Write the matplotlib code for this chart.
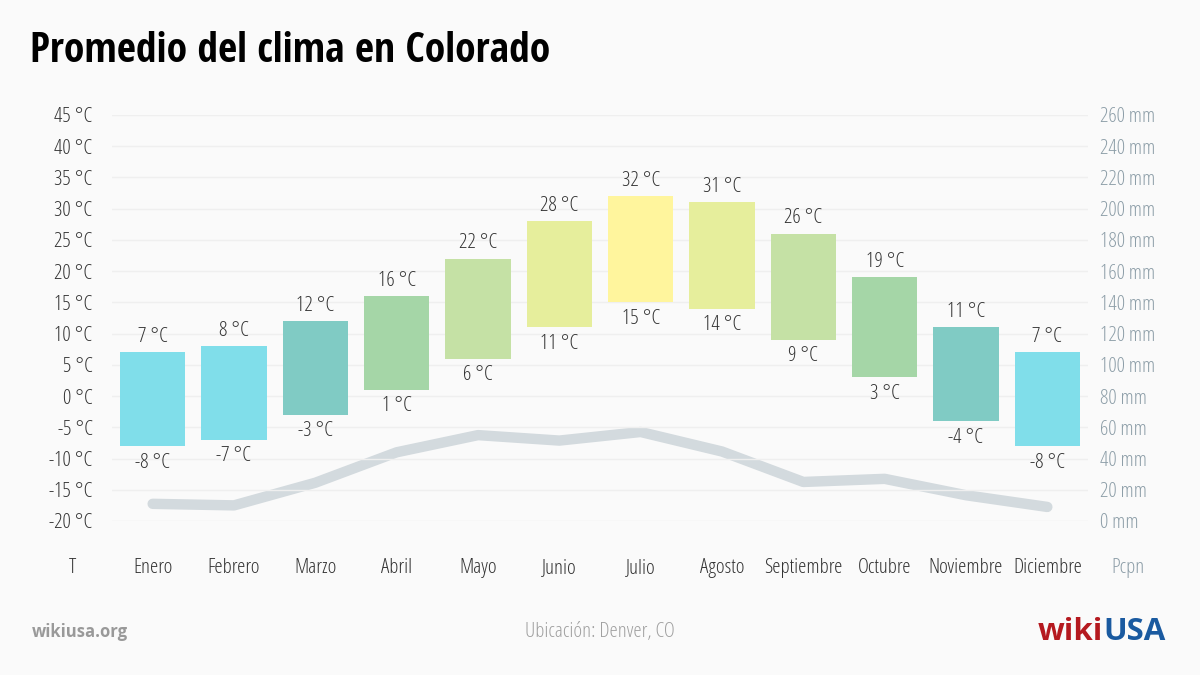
import matplotlib
matplotlib.use("Agg")
import matplotlib.pyplot as plt
from matplotlib import font_manager as fm
from matplotlib.font_manager import FontProperties
from matplotlib.lines import Line2D

# ---------------- data ----------------
months = ["Enero", "Febrero", "Marzo", "Abril", "Mayo", "Junio", "Julio",
          "Agosto", "Septiembre", "Octubre", "Noviembre", "Diciembre"]
temp_high = [7, 8, 12, 16, 22, 28, 32, 31, 26, 19, 11, 7]
temp_low = [-8, -7, -3, 1, 6, 11, 15, 14, 9, 3, -4, -8]
precip = [11, 10, 24.5, 44, 55, 51.5, 57, 44.5, 25, 27, 16.5, 9]
bar_colors = ["#80deea", "#80deea", "#80cbc4", "#a5d6a7", "#c5e1a5", "#e6ee9c",
              "#fff59d", "#e6ee9c", "#c5e1a5", "#a5d6a7", "#80cbc4", "#80deea"]
temp_ticks = list(range(-20, 50, 5))
precip_ticks = list(range(0, 280, 20))

# ---------------- fonts ----------------
def find_font(name, stretch, weight):
    for f in fm.fontManager.ttflist:
        if f.name == name and f.stretch == stretch and f.weight == weight:
            return f.fname
    return None

p_light = find_font("Open Sans", "condensed", 300)
p_bold = find_font("Open Sans Condensed", "condensed", 700)
p_sans_bold = find_font("Open Sans", "normal", 700)

def fp(path, size, fallback_weight="normal"):
    if path:
        return FontProperties(fname=path, size=size)
    return FontProperties(family="DejaVu Sans", size=size, weight=fallback_weight)

BG = "#fafafa"
DARK = "#333333"
AXIS2 = "#8d9ea8"
PX = 72 / 100  # points per pixel

fig = plt.figure(figsize=(12, 6.75), dpi=100, facecolor=BG)
ax = fig.add_axes([112 / 1200, 1 - 521 / 675, 976 / 1200, 406 / 675])
ax2 = ax.twinx()

x = list(range(len(months)))
heights = [h - l for h, l in zip(temp_high, temp_low)]

ax.bar(x, heights, bottom=temp_low, width=0.8, color=bar_colors, zorder=3)
ax.set_xlim(-0.5, len(months) - 0.5)
ax.set_ylim(-20, 45)
ax.set_yticks(temp_ticks)
ax.set_yticklabels([f"{t} °C" for t in temp_ticks])
ax.grid(axis="y", color="#efefef", linewidth=1, zorder=0)
ax.set_axisbelow(True)

lab_fp = fp(p_light, 15)
for xi, hi, lo in zip(x, temp_high, temp_low):
    ax.annotate(f"{hi} °C", (xi, hi), xytext=(0, 15.5 * PX), textcoords="offset points",
                ha="center", va="center", color=DARK, fontproperties=lab_fp, zorder=5)
    ax.annotate(f"{lo} °C", (xi, lo), xytext=(0, -16.5 * PX), textcoords="offset points",
                ha="center", va="center", color=DARK, fontproperties=lab_fp, zorder=5)

ax2.plot(x, precip, color="#d3dade", linewidth=7.5, solid_capstyle="round",
         solid_joinstyle="round", zorder=2)
ax2.set_ylim(0, 260)
ax2.set_yticks(precip_ticks)
ax2.set_yticklabels([f"{p} mm" for p in precip_ticks])
ax.set_zorder(ax2.get_zorder() + 1)
ax.patch.set_visible(False)
ax2.patch.set_facecolor(BG)

ax.set_xticks(x)
ax.set_xticklabels(months)
for a in (ax, ax2):
    for s in a.spines.values():
        s.set_visible(False)
ax.tick_params(axis="both", length=0)
ax2.tick_params(axis="both", length=0)
ax.tick_params(axis="y", pad=14, colors=DARK)
ax.tick_params(axis="x", pad=47 * PX, colors=DARK)
ax2.tick_params(axis="y", pad=9, colors=AXIS2)
for lbl in ax.get_yticklabels():
    lbl.set_fontproperties(lab_fp)
for lbl in ax.get_xticklabels():
    lbl.set_fontproperties(lab_fp)
    lbl.set_va("center")
for lbl in ax2.get_yticklabels():
    lbl.set_fontproperties(lab_fp)

fig.text(72 / 1200, 1 - 568 / 675, "T", ha="center", va="center", color=DARK, fontproperties=lab_fp)
fig.text(1128 / 1200, 1 - 568 / 675, "Pcpn", ha="center", va="center", color=AXIS2, fontproperties=lab_fp)

# title
fig.text(30 / 1200, 1 - 52 / 675, "Promedio del clima en Colorado", ha="left", va="center",
         color="#000000", fontproperties=fp(p_bold, 30, "bold"))

# footer
fig.text(32 / 1200, 1 - 632 / 675, "wikiusa.org", ha="left", va="center", color="#999999",
         fontproperties=fp(p_sans_bold, 12, "bold"))
fig.text(600 / 1200, 1 - 632 / 675, "Ubicación: Denver, CO", ha="center", va="center",
         color="#a0a0a0", fontproperties=fp(p_light, 15))
t1 = fig.text(1038 / 1200, 1 - 632 / 675, "wiki", ha="left", va="center", color="#b5191f",
              fontproperties=fp(p_sans_bold, 22.5, "bold"))
fig.canvas.draw()
bb = t1.get_window_extent()
t2 = fig.text(bb.x1 / 1200, 1 - 632 / 675, "USA", ha="left", va="center", color="#1a5aa0",
              fontproperties=fp(p_sans_bold, 22.5, "bold"))
fig.canvas.draw()
bb2 = t2.get_window_extent()
star = Line2D([(bb2.x1 - 12) / 1200], [1 - 628 / 675], transform=fig.transFigure,
              marker="*", markersize=7, color="white", markeredgewidth=0, linestyle="none")
fig.add_artist(star)

fig.savefig("out.png", dpi=100, facecolor=BG)
